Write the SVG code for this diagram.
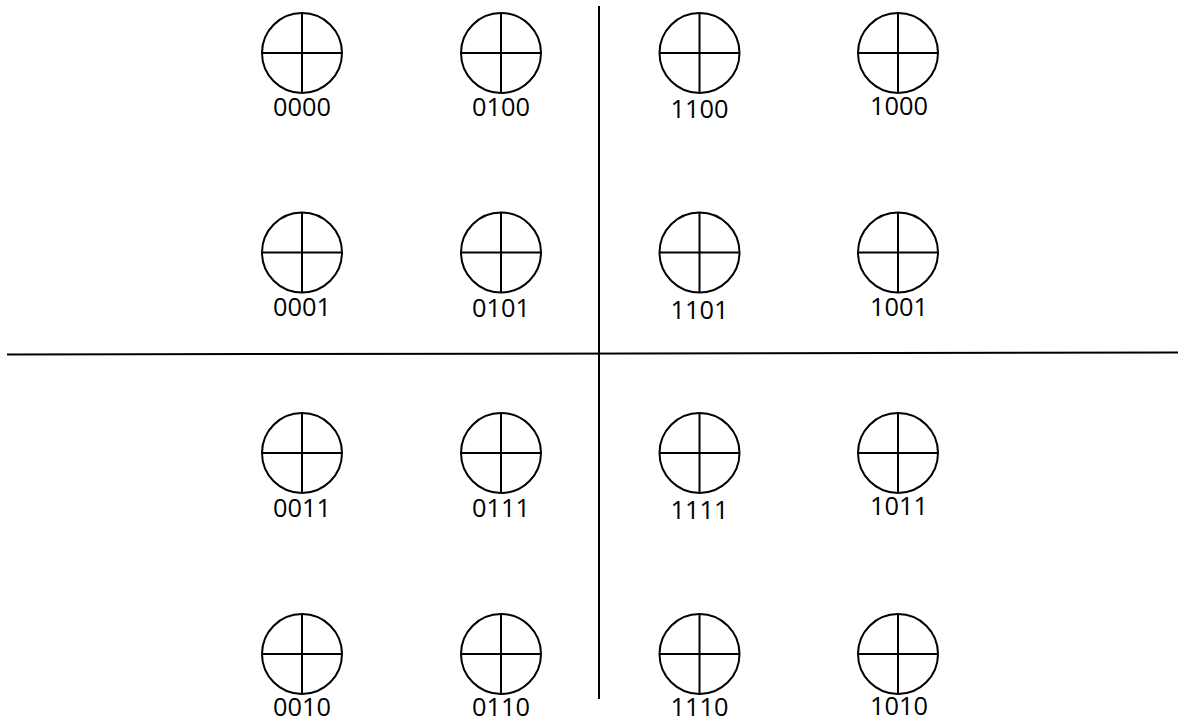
<svg xmlns="http://www.w3.org/2000/svg" width="1178" height="722" viewBox="0 0 1178 722">
<style>
.c{fill:none;stroke:#000;stroke-width:2}
.ax{stroke:#000;stroke-width:2;fill:none}
text{font-family:"Open Sans","Liberation Sans",sans-serif;font-size:25px;fill:#000;text-anchor:middle}
</style>
<defs>
<g id="q">
<circle class="c" cx="0" cy="0" r="40"/>
<line class="c" x1="-40" y1="0" x2="40" y2="0"/>
<line class="c" x1="0" y1="-40" x2="0" y2="40"/>
</g>
</defs>
<g id="axes">
<line class="ax" x1="7" y1="354.5" x2="1178" y2="352.5"/>
<line class="ax" x1="599" y1="6" x2="599" y2="699"/>
</g>
<g id="n0000"><use href="#q" x="302" y="53"/><text x="302" y="116" textLength="58" lengthAdjust="spacingAndGlyphs">0000</text></g>
<g id="n0100"><use href="#q" x="501" y="53"/><text x="501" y="116" textLength="58" lengthAdjust="spacingAndGlyphs">0100</text></g>
<g id="n1100"><use href="#q" x="699.5" y="53"/><text x="699.5" y="118" textLength="58" lengthAdjust="spacingAndGlyphs">1100</text></g>
<g id="n1000"><use href="#q" x="898" y="53"/><text x="899" y="115" textLength="58" lengthAdjust="spacingAndGlyphs">1000</text></g>
<g id="n0001"><use href="#q" x="302" y="252.5"/><text x="302" y="316" textLength="58" lengthAdjust="spacingAndGlyphs">0001</text></g>
<g id="n0101"><use href="#q" x="501" y="252.5"/><text x="501" y="317" textLength="58" lengthAdjust="spacingAndGlyphs">0101</text></g>
<g id="n1101"><use href="#q" x="699.5" y="252.5"/><text x="699.5" y="319" textLength="58" lengthAdjust="spacingAndGlyphs">1101</text></g>
<g id="n1001"><use href="#q" x="898" y="252.5"/><text x="899" y="316" textLength="58" lengthAdjust="spacingAndGlyphs">1001</text></g>
<g id="n0011"><use href="#q" x="302" y="453"/><text x="302" y="517" textLength="58" lengthAdjust="spacingAndGlyphs">0011</text></g>
<g id="n0111"><use href="#q" x="501" y="453"/><text x="501" y="517" textLength="58" lengthAdjust="spacingAndGlyphs">0111</text></g>
<g id="n1111"><use href="#q" x="699.5" y="453"/><text x="699.5" y="519" textLength="58" lengthAdjust="spacingAndGlyphs">1111</text></g>
<g id="n1011"><use href="#q" x="898" y="453"/><text x="899" y="515" textLength="58" lengthAdjust="spacingAndGlyphs">1011</text></g>
<g id="n0010"><use href="#q" x="302" y="654"/><text x="302" y="716" textLength="58" lengthAdjust="spacingAndGlyphs">0010</text></g>
<g id="n0110"><use href="#q" x="501" y="654"/><text x="501" y="716" textLength="58" lengthAdjust="spacingAndGlyphs">0110</text></g>
<g id="n1110"><use href="#q" x="699.5" y="654"/><text x="699.5" y="716" textLength="58" lengthAdjust="spacingAndGlyphs">1110</text></g>
<g id="n1010"><use href="#q" x="898" y="654"/><text x="899" y="715" textLength="58" lengthAdjust="spacingAndGlyphs">1010</text></g>
</svg>
